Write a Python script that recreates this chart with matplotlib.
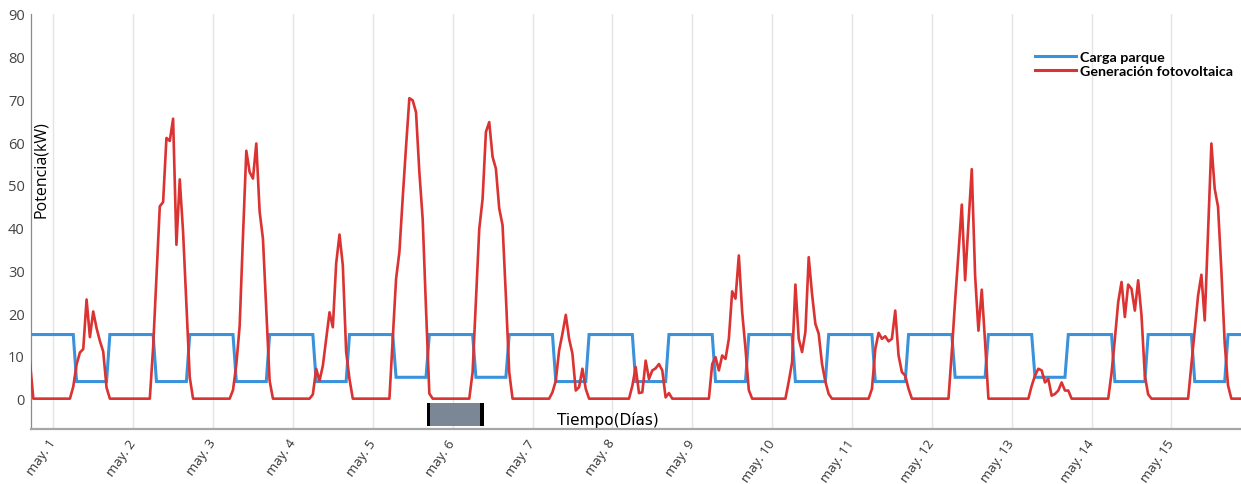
import matplotlib
matplotlib.use("Agg")
import matplotlib.pyplot as plt
from matplotlib.patches import Rectangle
from matplotlib.transforms import ScaledTranslation

# ---- data -------------------------------------------------------------
days = list(range(1, 16))
day_labels = [f"may. {d}" for d in days]

# PV generation (kW) for hours 05:00 .. 18:00 of each day; zero otherwise
pv_hours = list(range(5, 19))
pv_day01 = [0, 2.8, 8, 10.8, 11.6, 23.2, 14.4, 20.4, 16.5, 13.5, 11.0, 2.6, 0, 0]
pv_day02 = [0, 12, 28.5, 45, 46, 61, 60.3, 65.5, 36, 51.3, 39, 22, 5, 0]
pv_day03 = [0, 2, 8, 17, 38, 58, 53, 51.5, 59.7, 43.8, 37.4, 21, 4.2, 0]
pv_day04 = [0, 1, 7, 4.2, 7.7, 14, 20.2, 16.7, 31.6, 38.4, 31.2, 11, 4.6, 0]
pv_day05 = [0, 14, 28, 34.3, 47, 59, 70.3, 69.8, 67, 53, 42, 21, 1.2, 0]
pv_day06 = [0, 6.2, 23, 39.7, 46.7, 62.4, 64.7, 56.6, 53.8, 44.5, 40.6, 24, 6.2, 0]
pv_day07 = [0, 1.5, 4.2, 11.3, 15.2, 19.6, 14, 10.5, 1.9, 2.7, 7, 2.3, 0, 0]
pv_day08 = [0, 3, 7.4, 1.3, 1.5, 8.9, 4.6, 6.6, 7.1, 8.1, 6.6, 0.3, 1.3, 0]
pv_day09 = [0, 8.1, 9.7, 6.6, 10.1, 9.3, 14, 25.1, 23.4, 33.5, 20.3, 11.7, 2, 0]
pv_day10 = [4, 8.5, 26.7, 14, 10.9, 15.6, 33.1, 24.5, 17.5, 15.2, 8.1, 4, 1.1, 0]
pv_day11 = [0, 2.3, 11.6, 15.4, 14, 14.6, 13.4, 14, 20.6, 10.1, 6.2, 5.4, 2.3, 0]
pv_day12 = [0, 11, 23, 34, 45.4, 27.7, 41, 53.7, 28.8, 15.9, 25.5, 13.2, 0, 0]
pv_day13 = [0, 3, 5.4, 7, 6.6, 3.8, 4.6, 0.7, 1.1, 1.9, 3.8, 1.9, 1.9, 0]
pv_day14 = [0, 6, 14, 22.6, 27.3, 19.1, 26.7, 25.7, 20.6, 27.7, 19.5, 5.4, 1, 0]
pv_day15 = [0, 8, 16, 24.1, 29, 18.3, 39, 59.7, 49.1, 44.9, 30, 13, 3.1, 0]
pv_days = [pv_day01, pv_day02, pv_day03, pv_day04, pv_day05, pv_day06, pv_day07,
           pv_day08, pv_day09, pv_day10, pv_day11, pv_day12, pv_day13, pv_day14,
           pv_day15]
pv_prev_evening = {17: 8.5}   # 30 April, hour -> kW

# Park load (kW): high level at night, reduced level during daytime hours
load_high = 15.0
load_low = [4.0, 4.0, 4.0, 4.0, 5.0, 5.0, 4.0, 4.0, 4.0, 4.0, 4.0, 5.0, 5.0, 4.0, 4.0]
load_low_hours = list(range(7, 17))

# ---- hourly series ----------------------------------------------------
t, load, pv = [], [], []
for h in range(17, 24):
    t.append(h - 24)
    load.append(load_high)
    pv.append(pv_prev_evening.get(h, 0.0))
for i, d in enumerate(days):
    for h in range(24):
        t.append(24 * i + h)
        load.append(load_low[i] if h in load_low_hours else load_high)
        pv.append(pv_days[i][pv_hours.index(h)] if h in pv_hours else 0.0)

# ---- figure -----------------------------------------------------------
W, H = 1241, 485
fig = plt.figure(figsize=(W / 100, H / 100), dpi=100)
ax = fig.add_axes([31 / W, 55 / H, 1210 / W, 415 / H])

blue = "#3a92db"
red = "#db3232"
ax.plot(t, load, color=blue, lw=2.2, label="Carga parque", zorder=3,
        solid_joinstyle="miter")
ax.plot(t, pv, color=red, lw=1.9, label="Generación fotovoltaica", zorder=4)

ax.set_xlim(-6.7, 356.9)
ax.set_ylim(-7.1, 90)

ax.set_xticks([24 * i for i in range(len(days))])
ax.set_xticklabels(day_labels, rotation=55, ha="right", va="center",
                   rotation_mode="anchor", family="Open Sans", fontsize=9.5,
                   color="#333333")
shift = ScaledTranslation(3 / 100, 0, fig.dpi_scale_trans)
for lab in ax.get_xticklabels():
    lab.set_transform(lab.get_transform() + shift)
ax.set_yticks(range(0, 91, 10))
ax.set_yticklabels([str(v) for v in range(0, 91, 10)], family="Open Sans",
                   fontsize=10.5, color="#444444")
ax.tick_params(axis="x", length=0, pad=8)
ax.tick_params(axis="y", length=0, pad=4.5)

ax.grid(axis="x", color="#e4e4e4", lw=1.0, zorder=0)
ax.grid(axis="y", visible=False)
for s in ("top", "right"):
    ax.spines[s].set_visible(False)
ax.spines["left"].set_color("#8a8a8a")
ax.spines["left"].set_linewidth(0.9)
ax.spines["bottom"].set_color("#a6a6a6")
ax.spines["bottom"].set_linewidth(1.6)

ax.set_ylabel("Potencia(kW)", family="Open Sans", fontsize=11.5, color="black")
ax.yaxis.set_label_coords(10 / 1210, (430 - 170) / 415)
ax.yaxis.label.set_va("center")
ax.set_xlabel("Tiempo(Días)", family="DejaVu Sans", fontsize=11, color="black")
ax.xaxis.set_label_coords((608 - 31) / 1210, (430 - 420) / 415)
ax.xaxis.label.set_va("center")

# range selector handle under the series
sel_start, sel_end = 112.2, 129.4
sel_top, sel_bottom = -1.05, -6.4
bar_w = 1.05
ax.add_patch(Rectangle((sel_start, sel_bottom), sel_end - sel_start,
                       sel_top - sel_bottom, facecolor="#7b8795",
                       edgecolor="none", zorder=5, clip_on=False))
for x0 in (sel_start, sel_end - bar_w):
    ax.add_patch(Rectangle((x0, sel_bottom), bar_w, sel_top - sel_bottom,
                           facecolor="black", edgecolor="none", zorder=6,
                           clip_on=False))

leg = ax.legend(loc="upper left", bbox_to_anchor=(1035 / W, 1 - 52 / H),
                bbox_transform=fig.transFigure, frameon=False,
                prop={"family": "Lato", "weight": "bold", "size": 10.3},
                handlelength=2.85, handletextpad=0.33, labelspacing=0.14,
                borderpad=0, borderaxespad=0)
for line in leg.get_lines():
    line.set_linewidth(2.2)

fig.savefig("out.png", dpi=100)
